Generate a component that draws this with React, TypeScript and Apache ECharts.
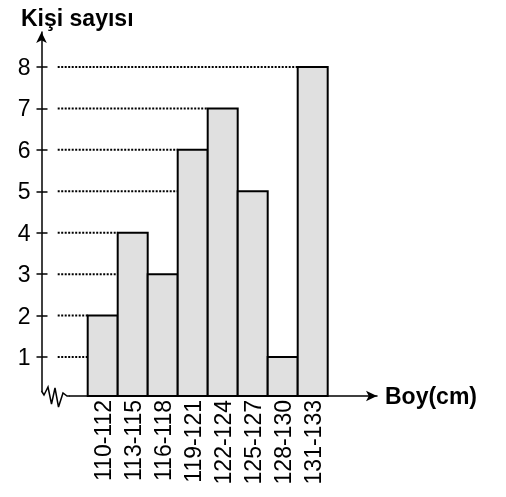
import React, { useEffect, useRef } from "react";
import * as echarts from "echarts";

const categories = ["110-112", "113-115", "116-118", "119-121", "122-124", "125-127", "128-130", "131-133"];
const counts = [2, 4, 3, 6, 7, 5, 1, 8];
const yTicks = [1, 2, 3, 4, 5, 6, 7, 8];
const yTitle = "Kişi sayısı";
const xTitle = "Boy(cm)";

const FONT = "'Liberation Sans', Arial, sans-serif";
const Y0_MIN = 0.0587;

function firstIndexAtLeast(level: number): number {
  for (let i = 0; i < counts.length; i++) if (counts[i] >= level) return i;
  return counts.length - 1;
}

export default function App() {
  const ref = useRef<HTMLDivElement>(null);
  useEffect(() => {
    if (!ref.current) return;
    const chart = echarts.init(ref.current, null, { renderer: "svg" });
    const dotData = yTicks.map((l) => [firstIndexAtLeast(l), l]);
    const barData = counts.map((v, i) => [i, v]);
    chart.setOption({
      animation: false,
      textStyle: { fontFamily: FONT, color: "#000" },
      title: {
        text: yTitle,
        left: 16,
        top: 1,
        textStyle: { fontFamily: FONT, fontSize: 23, fontWeight: "bold", color: "#000" },
      },
      grid: [
        { left: 87.7, top: 67, width: 240, height: 329 },
        { left: 41.5, top: 32, width: 10, height: 359 },
        { left: 70, top: 300, width: 307, height: 96 },
      ],
      xAxis: [
        {
          type: "category",
          gridIndex: 0,
          data: categories,
          axisLine: { show: false },
          axisTick: { show: false },
          axisLabel: { rotate: 90, fontSize: 23, margin: 4, color: "#000", interval: 0, fontFamily: FONT },
        },
        { type: "value", gridIndex: 1, show: false },
        {
          type: "value",
          gridIndex: 2,
          min: 0,
          max: 1,
          axisLine: { show: true, lineStyle: { color: "#000", width: 1.5 }, symbol: ["none", "arrow"], symbolSize: [8, 11] },
          axisTick: { show: false },
          axisLabel: { show: false },
          splitLine: { show: false },
          name: xTitle,
          nameLocation: "end",
          nameGap: 8,
          nameTextStyle: { fontFamily: FONT, fontSize: 23, fontWeight: "bold", color: "#000", verticalAlign: "middle" },
        },
      ],
      yAxis: [
        { type: "value", gridIndex: 0, min: Y0_MIN, max: 8, show: false },
        {
          type: "value",
          gridIndex: 1,
          position: "left",
          min: 0.179,
          max: 8.845,
          axisLine: { show: true, lineStyle: { color: "#000", width: 1.5 }, symbol: ["none", "arrow"], symbolSize: [8, 11] },
          axisTick: { show: true, length: 5, lineStyle: { color: "#000", width: 1.5 }, customValues: yTicks },
          axisLabel: { show: true, fontSize: 23, margin: 11, color: "#000", fontFamily: FONT, customValues: yTicks },
          splitLine: { show: false },
        },
        {
          type: "value",
          gridIndex: 1,
          position: "left",
          min: 0.179,
          max: 8.845,
          axisLine: { show: false },
          axisTick: { show: true, inside: true, length: 6, lineStyle: { color: "#000", width: 1.5 }, customValues: yTicks },
          axisLabel: { show: false },
          splitLine: { show: false },
        },
        { type: "value", gridIndex: 2, show: false },
      ],
      series: [
        {
          type: "custom",
          xAxisIndex: 0,
          yAxisIndex: 0,
          clip: false,
          z: 1,
          data: dotData,
          renderItem: (params: any, api: any) => {
            const idx = api.value(0);
            const level = api.value(1);
            const band = api.size([1, 0])[0];
            const p0 = api.coord([0, level]);
            const p1 = api.coord([idx, level]);
            return {
              type: "line",
              shape: { x1: p0[0] - 1.5 * band, y1: p0[1], x2: p1[0] - band / 2, y2: p1[1] },
              style: { stroke: "#000", lineWidth: 2, lineDash: [2, 1.5] },
            };
          },
        },
        {
          type: "custom",
          xAxisIndex: 0,
          yAxisIndex: 0,
          clip: false,
          z: 2,
          data: barData,
          encode: { x: 0, y: 1 },
          renderItem: (params: any, api: any) => {
            const i = api.value(0);
            const v = api.value(1);
            const band = api.size([1, 0])[0];
            const top = api.coord([i, v]);
            const base = api.coord([i, Y0_MIN]);
            return {
              type: "rect",
              shape: { x: top[0] - band / 2, y: top[1], width: band, height: base[1] - top[1] },
              style: { fill: "#e0e0e0", stroke: "#000", lineWidth: 2 },
            };
          },
        },
      ],
      graphic: [
        {
          type: "polyline",
          shape: {
            points: [
              [41.5, 391], [44, 395], [48, 387], [51.5, 404], [55, 388], [58.5, 407], [63, 393], [67, 396], [70, 396],
            ],
          },
          style: { stroke: "#000", lineWidth: 1.5, fill: "none" },
          z: 10,
        },
      ],
    });
    return () => chart.dispose();
  }, []);
  return <div ref={ref} style={{ position: "fixed", left: 0, top: 0, width: 506, height: 497 }} />;
}
